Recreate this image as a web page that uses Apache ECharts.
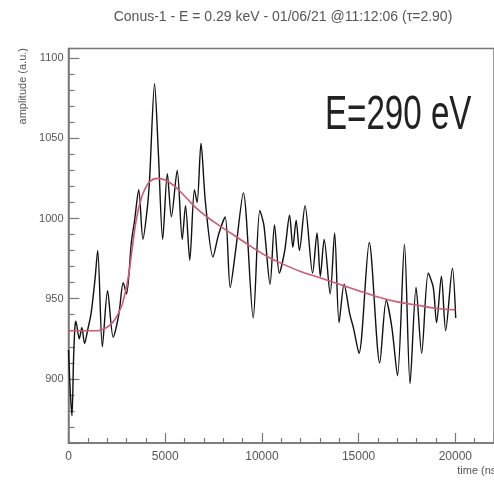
<!DOCTYPE html>
<html>
<head>
<meta charset="utf-8">
<script src="https://cdn.jsdelivr.net/npm/echarts@6/dist/echarts.min.js"></script>
<style>
html,body{margin:0;padding:0;background:#fff;}
#chart{width:494px;height:483px;}
</style>
</head>
<body>
<div id="chart"></div>
<script>
// ---- data ----
var traceTime = [0, 100, 180, 260, 330, 380, 555, 690, 830, 1000, 1170, 1370, 1510, 1750, 2020, 2310, 2600, 2830, 3000, 3250, 3420, 3630, 3850, 4070, 4190, 4450, 4650, 4870, 5110, 5320, 5620, 5880, 6050, 6270, 6510, 6650, 6850, 7080, 7470, 7760, 8100, 8360, 8630, 9040, 9550, 9890, 10100, 10420, 10650, 10900, 11180, 11430, 11600, 11770, 11940, 12230, 12620, 12850, 13020, 13220, 13530, 13760, 13990, 14250, 14550, 14730, 15020, 15550, 16090, 16430, 16720, 17010, 17370, 17660, 17970, 18260, 18600, 18860, 19030, 19280, 19500, 19850, 20020];
var traceAmp  = [918, 890, 877, 912, 932, 936, 925, 932, 922, 931, 941, 962, 980, 920, 955, 926, 940, 960, 953, 985, 999, 1018, 987, 1006, 1024, 1084, 1040, 987, 1028, 1001, 1030, 987, 1008, 974, 1018, 1010, 1047, 1010, 976, 990, 1001, 957, 979, 1016, 938, 1005, 996, 959, 996, 966, 980, 1002, 982, 999, 980, 1008, 966, 991, 964, 987, 953, 991, 935, 959, 940, 932, 916, 985, 910, 949, 932, 902, 984, 897, 957, 916, 966, 957, 935, 964, 930, 969, 938];

var fitTime = [0, 500, 1000, 1500, 1800, 2100, 2400, 2700, 2900, 3100, 3300, 3500, 3700, 3900, 4200, 4600, 5000, 5500, 6000, 6740, 7500, 8500, 9500, 10320, 11000, 12000, 13000, 14000, 15000, 16000, 17000, 18000, 19000, 20000];
var fitAmp  = [930, 930, 930, 930, 931, 933, 937, 944, 952, 964, 982, 999, 1010, 1017, 1023, 1025, 1024, 1020, 1014, 1005, 998, 990, 982, 976, 972, 967, 963, 959, 955, 951, 948, 946, 944, 943];

var titleText = 'Conus-1 - E = 0.29 keV - 01/06/21 @11:12:06 (\u03c4=2.90)';
var energyText = 'E=290 eV';
var xTitle = 'time (ns)';
var yTitle = 'amplitude (a.u.)';

function pairs(xs, ys){ var o=[]; for(var i=0;i<xs.length;i++){o.push([xs[i], ys[i]]);} return o; }
function plain(v){ return String(v); }

var chart = echarts.init(document.getElementById('chart'), null, {renderer:'canvas'});
var FONT = '"Liberation Sans", Arial, sans-serif';
var option = {
  animation: false,
  backgroundColor: '#fff',
  grid: {left: 68.5, top: 48.5, right: -4, bottom: 40, show: true, borderColor: '#777', borderWidth: 1.5, containLabel: false},
  xAxis: {
    type: 'value', min: 0, max: 22000, interval: 5000,
    axisLine: {show: true, onZero: false, lineStyle: {color: '#777', width: 1.5}},
    axisTick: {show: true, inside: true, length: 10, lineStyle: {color: '#777', width: 1.2}},
    minorTick: {show: true, splitNumber: 5, length: 5, lineStyle: {color: '#777', width: 1.2}},
    splitLine: {show: false},
    axisLabel: {show: true, margin: 8, color: '#555', fontSize: 12, fontFamily: FONT, showMaxLabel: false, formatter: plain}
  },
  yAxis: {
    type: 'value', min: 860, max: 1106, splitNumber: 5,
    axisLine: {show: true, onZero: false, lineStyle: {color: '#777', width: 1.5}},
    axisTick: {show: true, inside: true, length: 11, lineStyle: {color: '#777', width: 1.2}},
    minorTick: {show: true, splitNumber: 5, length: 6, lineStyle: {color: '#777', width: 1.2}},
    splitLine: {show: false},
    axisLabel: {show: true, margin: 5, color: '#555', fontSize: 11, fontFamily: FONT, showMinLabel: false, showMaxLabel: false, formatter: plain}
  },
  series: [
    {type: 'line', data: pairs(traceTime, traceAmp), showSymbol: false, smooth: 0.28,
     lineStyle: {color: '#111', width: 1.4}, z: 2},
    {type: 'line', data: pairs(fitTime, fitAmp), showSymbol: false, smooth: 0.4,
     lineStyle: {color: '#d05a72', width: 1.6}, z: 3}
  ],
  graphic: [
    {type: 'text', x: 283, y: 17, style: {text: titleText, fill: '#555', font: '14px ' + FONT, textAlign: 'center', textVerticalAlign: 'middle'}},
    {type: 'text', x: 325, y: 116, scaleX: 0.69, style: {text: energyText, fill: '#222', font: '48px ' + FONT, textAlign: 'left', textVerticalAlign: 'middle'}},
    {type: 'text', x: 500, y: 471, style: {text: xTitle, fill: '#555', font: '11px ' + FONT, textAlign: 'right', textVerticalAlign: 'middle'}},
    {type: 'text', x: 23, y: 48, rotation: Math.PI / 2, style: {text: yTitle, fill: '#555', font: '11px ' + FONT, textAlign: 'right', textVerticalAlign: 'middle'}}
  ]
};
chart.setOption(option);
</script>
</body>
</html>
